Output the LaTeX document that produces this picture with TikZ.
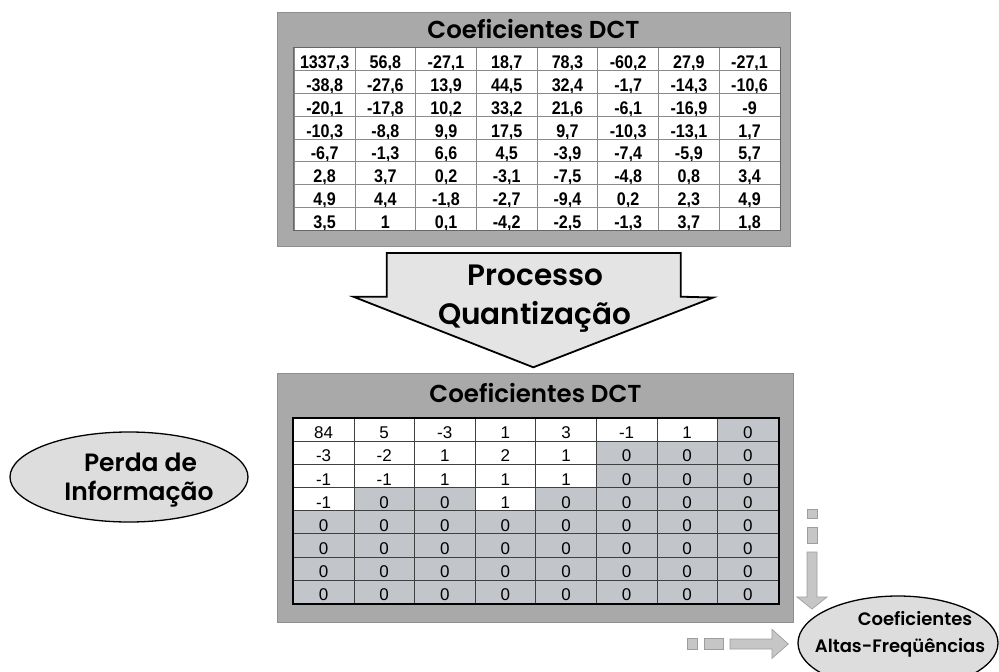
\documentclass[tikz,border=0pt]{standalone}
\usepackage{fontspec}
\setmainfont{Liberation Sans}
\newfontfamily\geo{Poppins SemiBold}
\newfontfamily\numb{Liberation Sans Bold}[FakeStretch=0.88]
\usetikzlibrary{shapes.geometric}
\definecolor{panelgray}{HTML}{A9A9A9}
\definecolor{panelline}{HTML}{8E8E8E}
\definecolor{gridgray}{HTML}{8A8A8A}
\definecolor{cellgray}{HTML}{C2C5CA}
\definecolor{arrowfill}{HTML}{E4E4E4}
\definecolor{ellfill}{HTML}{DDDDDD}
\definecolor{smallfill}{HTML}{C6C6C6}
\definecolor{smallline}{HTML}{9E9E9E}
\begin{document}
\begin{tikzpicture}[x=1pt,y=-1pt,
  panel/.style={fill=panelgray,draw=panelline,line width=1pt},
  topcell/.style={draw=gridgray,line width=0.7pt,fill=white,minimum width=60.7pt,minimum height=22.8pt,
    inner sep=0pt,text height=19pt,text depth=0pt,font=\numb\fontsize{18.3}{18}\selectfont},
  botcell/.style={draw=black!75,line width=0.8pt,minimum width=60.6pt,minimum height=23.1pt,
    inner sep=0pt,text height=18pt,text depth=0pt,font=\fontsize{17}{17}\selectfont},
  cellw/.style={botcell,fill=white},
  cellg/.style={botcell,fill=cellgray},
  title/.style={anchor=base,inner sep=0pt,font=\geo\fontsize{24.5}{26}\selectfont},
  bigtext/.style={anchor=base,inner sep=0pt,font=\geo\fontsize{29.5}{30}\selectfont},
  elltext/.style={anchor=base,inner sep=0pt,font=\geo\fontsize{25}{28}\selectfont},
  smalltext/.style={anchor=base,inner sep=0pt,font=\geo\fontsize{18}{20}\selectfont},
  oval/.style={ellipse,draw=black,line width=1.3pt,fill=ellfill,inner sep=0pt},
  smallarr/.style={fill=smallfill,draw=smallline,line width=0.7pt}
]
\useasboundingbox (0,0) rectangle (999,672);
\clip (0,0) rectangle (999,672);
\fill[white] (0,0) rectangle (999,672);

% ---------- top panel ----------
\node[panel,minimum width=513pt,minimum height=234.4pt,inner sep=0pt] (toppanel) at (533.5,129.5) {};
\node[title] (toptitle) at (533.5,38.3) {Coeficientes DCT};
\foreach \row [count=\r] in {
 {{1337,3},{56,8},{-27,1},{18,7},{78,3},{-60,2},{27,9},{-27,1}},
 {{-38,8},{-27,6},{13,9},{44,5},{32,4},{-1,7},{-14,3},{-10,6}},
 {{-20,1},{-17,8},{10,2},{33,2},{21,6},{-6,1},{-16,9},{-9}},
 {{-10,3},{-8,8},{9,9},{17,5},{9,7},{-10,3},{-13,1},{1,7}},
 {{-6,7},{-1,3},{6,6},{4,5},{-3,9},{-7,4},{-5,9},{5,7}},
 {{2,8},{3,7},{0,2},{-3,1},{-7,5},{-4,8},{0,8},{3,4}},
 {{4,9},{4,4},{-1,8},{-2,7},{-9,4},{0,2},{2,3},{4,9}},
 {{3,5},{1},{0,1},{-4,2},{-2,5},{-1,3},{3,7},{1,8}}}{
  \foreach \v [count=\c] in \row {
    \node[topcell] (t-\r-\c) at ({294.3+(\c-0.5)*60.7},{47.7+(\r-0.5)*22.8}) {\v};
  }
}
\draw[draw=black!60,line width=1pt] (t-1-1.north west) rectangle (t-8-8.south east);

% ---------- big arrow ----------
\draw[fill=arrowfill,line width=1.8pt,line join=miter] (386.7,253) -- (680.7,253) -- (680.7,296.7) -- (713.3,297.5)
  -- (533.3,367.3) -- (353.3,296.7) -- (386.7,296.7) -- cycle;
\node[bigtext] (proc) at (535.5,285) {Processo};
\node[bigtext] (quant) at (534.5,324) {Quantização};

% ---------- bottom panel ----------
\node[panel,minimum width=516pt,minimum height=249pt,inner sep=0pt] (botpanel) at (535,497.5) {};
\node[title] (bottitle) at (535.5,402.3) {Coeficientes DCT};
\foreach \row [count=\r] in {
 {84/w,5/w,-3/w,1/w,3/w,-1/w,1/w,0/g},
 {-3/w,-2/w,1/w,2/w,1/w,0/g,0/g,0/g},
 {-1/w,-1/w,1/w,1/w,1/w,0/g,0/g,0/g},
 {-1/w,0/g,0/g,1/w,0/g,0/g,0/g,0/g},
 {0/g,0/g,0/g,0/g,0/g,0/g,0/g,0/g},
 {0/g,0/g,0/g,0/g,0/g,0/g,0/g,0/g},
 {0/g,0/g,0/g,0/g,0/g,0/g,0/g,0/g},
 {0/g,0/g,0/g,0/g,0/g,0/g,0/g,0/g}}{
  \foreach \v/\f [count=\c] in \row {
    \node[cell\f] (b-\r-\c) at ({293.3+(\c-0.5)*60.6},{418.3+(\r-0.5)*23.1}) {\v};
  }
}
\draw[line width=2pt] (b-1-1.north west) rectangle (b-8-8.south east);

% ---------- ellipses ----------
\node[oval,minimum width=238pt,minimum height=90pt] (perda) at (129,477) {};
\node[elltext] (perda1) at (140.5,471.7) {Perda de};
\node[elltext] (perda2) at (139,500) {Informação};

\node[oval,minimum width=200pt,minimum height=94pt] (altas) at (898,643) {};
\node[smalltext] (altas1) at (915,625) {Coeficientes};
\node[smalltext] (altas2) at (900,652) {Altas-Freqüências};

% ---------- dashed gray arrows ----------
\filldraw[smallarr] (807,509) rectangle (817,518);
\filldraw[smallarr] (807,527) rectangle (817,543);
\filldraw[smallarr] (807,552) -- (817,552) -- (817,597) -- (827,597) -- (812,609) -- (797,597) -- (807,597) -- cycle;

\filldraw[smallarr] (687,638.3) rectangle (697,649);
\filldraw[smallarr] (704,638.3) rectangle (723,649);
\filldraw[smallarr] (730,639) -- (772,639) -- (772,629.3) -- (788.3,644) -- (772,658.3) -- (772,649) -- (730,649) -- cycle;
\end{tikzpicture}
\end{document}
